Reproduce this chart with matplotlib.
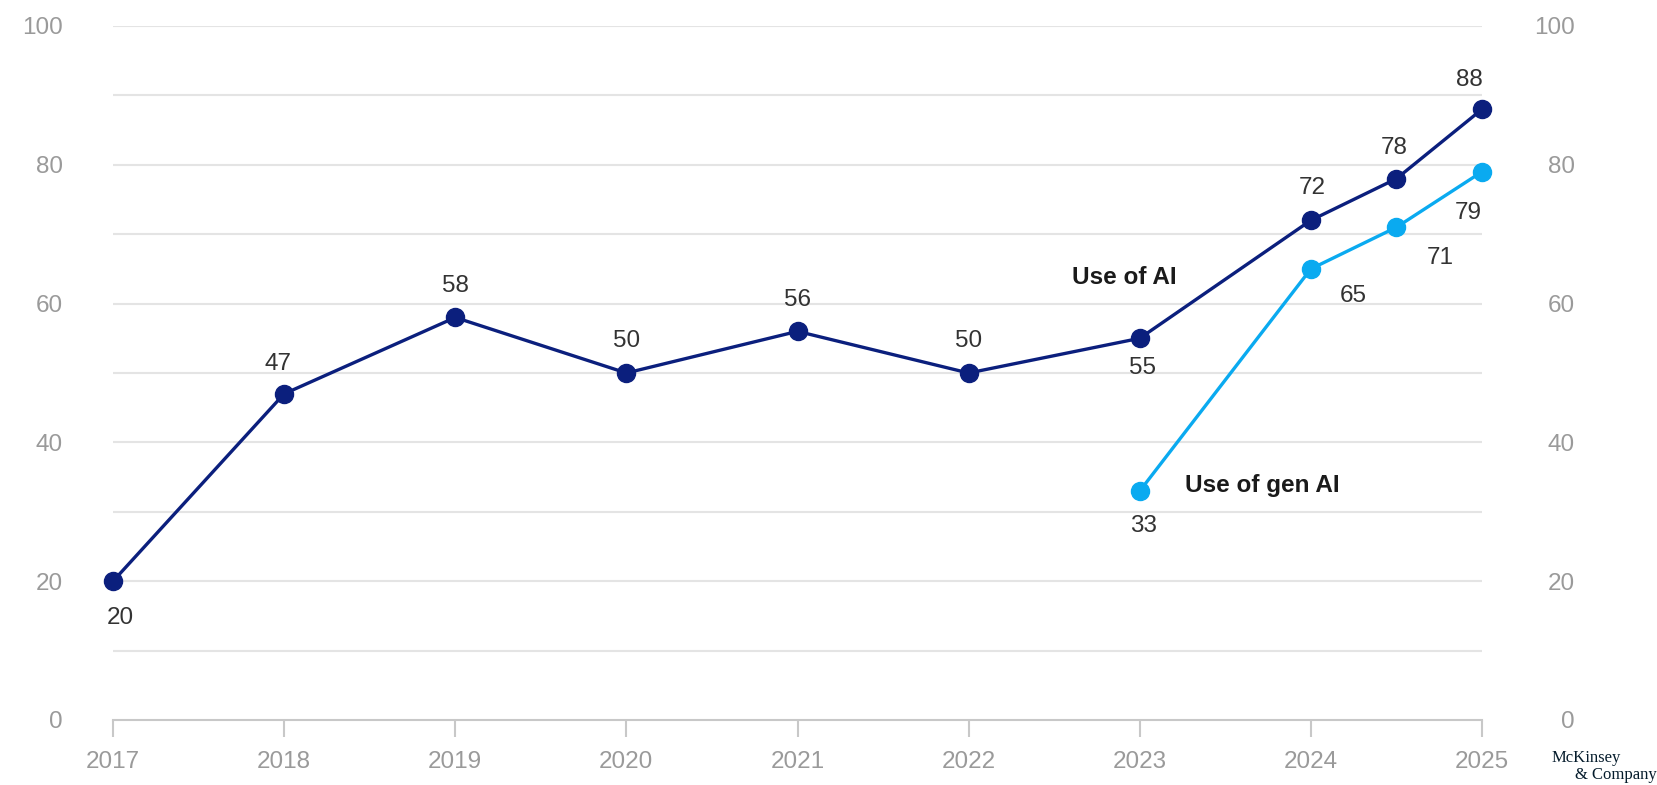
import matplotlib.pyplot as plt
import matplotlib.transforms as mtransforms

# --- Data ---
years = [2017, 2018, 2019, 2020, 2021, 2022, 2023, 2024, 2024.5, 2025]
use_ai = [20, 47, 58, 50, 56, 50, 55, 72, 78, 88]
gen_years = [2023, 2024, 2024.5, 2025]
use_gen_ai = [33, 65, 71, 79]
year_ticks = [2017, 2018, 2019, 2020, 2021, 2022, 2023, 2024, 2025]
y_ticks = [0, 20, 40, 60, 80, 100]

# label offsets in pixels (dx, dy)
ai_offsets = [(7, -37), (-6, 30), (0, 31), (0, 32), (0, 31), (0, 32),
              (3, -30), (1, 32), (-2, 31), (-13, 29)]
gen_offsets = [(4, -35), (42, -27), (44, -31), (-14, -41)]

NAVY = "#0b1f7d"
SKY = "#0aaaf0"
GRID = "#e4e4e4"
AXIS = "#c8c8c8"
TICK_TXT = "#9a9a9a"
LABEL_TXT = "#333333"

plt.rcParams["font.family"] = ["Liberation Sans", "DejaVu Sans"]

fig = plt.figure(figsize=(16.58, 7.85), dpi=100)
ax = fig.add_axes([113 / 1658, 65 / 785, 1369 / 1658, 694 / 785])

ax.set_xlim(2017, 2025)
ax.set_ylim(0, 100)

# gridlines every 10
for v in range(10, 101, 10):
    ax.axhline(v, color=GRID, lw=1.5, zorder=0)

for s in ["top", "right", "left"]:
    ax.spines[s].set_visible(False)
ax.spines["bottom"].set_color(AXIS)
ax.spines["bottom"].set_linewidth(1.5)

ax.set_xticks(year_ticks)
ax.set_xticklabels([str(y) for y in year_ticks])
ax.tick_params(axis="x", direction="out", length=12, width=1.5, color=AXIS,
               labelsize=17.5, labelcolor=TICK_TXT, pad=10)

ax.set_yticks(y_ticks)
ax.set_yticklabels([str(v) for v in y_ticks])
ax.tick_params(axis="y", length=0, labelsize=17.5, labelcolor=TICK_TXT,
               labelleft=True, labelright=True, pad=36)
for t in ax.yaxis.get_major_ticks():
    t.label2.set_horizontalalignment("right")
    t.set_pad(36)
# push right labels further out so they end near the image edge
shift = mtransforms.ScaledTranslation(93 / 100 - 36 / 72, 0, fig.dpi_scale_trans)
for t in ax.yaxis.get_major_ticks():
    t.label2.set_transform(t.label2.get_transform() + shift)

# --- Lines ---
ax.plot(years, use_ai, color=NAVY, lw=2.4, marker="o", markersize=13,
        clip_on=False, zorder=3)
ax.plot(gen_years, use_gen_ai, color=SKY, lw=2.4, marker="o", markersize=13,
        clip_on=False, zorder=3)

for x, y, (dx, dy) in zip(years, use_ai, ai_offsets):
    ax.annotate(str(y), (x, y), xytext=(dx, dy), textcoords="offset pixels",
                ha="center", va="center", fontsize=17.5, color=LABEL_TXT)
for x, y, (dx, dy) in zip(gen_years, use_gen_ai, gen_offsets):
    ax.annotate(str(y), (x, y), xytext=(dx, dy), textcoords="offset pixels",
                ha="center", va="center", fontsize=17.5, color=LABEL_TXT)

# series labels
ax.annotate("Use of AI", (2023, use_ai[6]), xytext=(-68, 61),
            textcoords="offset pixels", ha="left", va="center",
            fontsize=17.5, fontweight="bold", color="#1a1a1a")
ax.annotate("Use of gen AI", (2023, use_gen_ai[0]), xytext=(45, 5),
            textcoords="offset pixels", ha="left", va="center",
            fontsize=17.5, fontweight="bold", color="#1a1a1a")

# logo
fig.text(1552 / 1658, 1 - 758 / 785, "McKinsey", family="Liberation Serif",
         fontsize=12, color="#051c2c", ha="left", va="center")
fig.text(1657 / 1658, 1 - 775 / 785, "& Company", family="Liberation Serif",
         fontsize=12, color="#051c2c", ha="right", va="center")

fig.savefig("out.png", dpi=100)
